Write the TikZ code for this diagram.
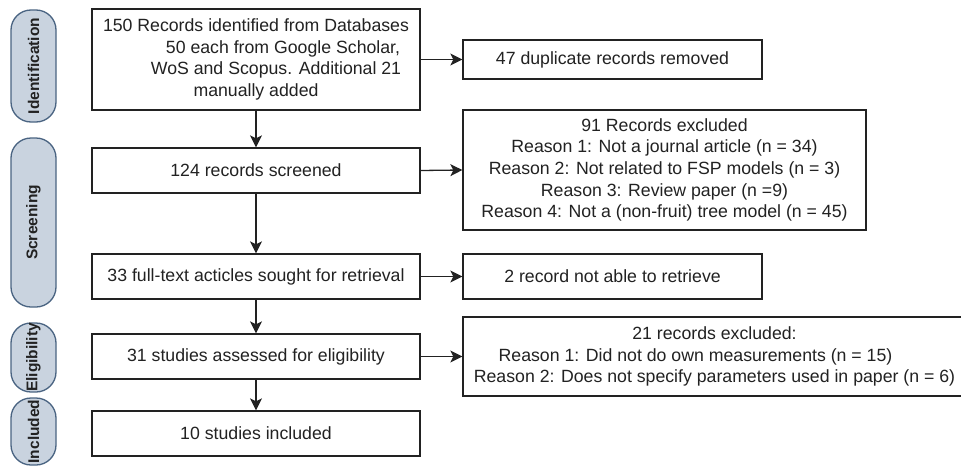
\documentclass[tikz,border=0pt]{standalone}
\usepackage{fontspec}
\setmainfont{Liberation Sans}
\usetikzlibrary{arrows.meta}
\definecolor{pillfill}{HTML}{C9D3DF}
\definecolor{pilldraw}{HTML}{4A6482}
\definecolor{ink}{HTML}{222222}
\begin{document}
\begin{tikzpicture}[x=1pt,y=-1pt,
  box/.style={draw=ink, line width=1.3pt, fill=white, align=center, inner sep=2pt,
    font=\fontsize{17.7}{21.7}\selectfont, text=ink},
  pill/.style={draw=pilldraw, line width=1.3pt, fill=pillfill, rounded corners=20pt,
    rotate=90, minimum height=45pt, inner sep=0pt, font=\fontsize{15.5}{17}\selectfont\bfseries, text=ink},
  arr/.style={draw=ink, line width=1.3pt, -{Stealth[length=12pt,width=12pt,inset=3pt]}}]
\useasboundingbox (0,0) rectangle (961,466);
\fill[white] (0,0) rectangle (961,466);
\clip (0,0) rectangle (961,466);
% phase pills
\node[pill, minimum width=112pt] (pid) at (33.5,66) {Identification};
\node[pill, minimum width=169pt] (psc) at (33.5,222.5) {Screening};
\node[pill, minimum width=69pt] (pel) at (33.5,357.5) {Eligibility};
\node[pill, minimum width=67pt] (pin) at (33.5,431.5) {Included};
% main column
\node[box, minimum width=328pt, minimum height=101pt] (b1) at (256,59.5)
  {150 Records identified from Databases\\
   \makebox[54pt]{}50 each from Google Scholar,\\
   \makebox[40pt]{}WoS and Scopus. Additional 21\\
   manually added};
\node[box, minimum width=328pt, minimum height=45pt] (b2) at (256,170.5) {124 records screened};
\node[box, minimum width=328pt, minimum height=45pt] (b3) at (256,276.5) {33 full-text acticles sought for retrieval};
\node[box, minimum width=328pt, minimum height=45pt] (b4) at (256,356.5) {31 studies assessed for eligibility};
\node[box, minimum width=328pt, minimum height=45pt] (b5) at (256,433.5) {10 studies included};
% right column
\node[box, minimum width=299pt, minimum height=39pt] (r1) at (612.5,59.5) {47 duplicate records removed};
\node[box, minimum width=403pt, minimum height=120pt] (r2) at (664.5,170)
  {91 Records excluded\\
   Reason 1: Not a journal article (n = 34)\\
   Reason 2: Not related to FSP models (n = 3)\\
   Reason 3: Review paper (n =9)\\
   Reason 4: Not a (non-fruit) tree model (n = 45)};
\node[box, minimum width=299pt, minimum height=45pt] (r3) at (612.5,276.5) {2 record not able to retrieve};
\node[box, minimum width=560pt, minimum height=79pt] (r4) at (743,356.5)
  {21 records excluded:\makebox[57pt]{}\\
   Reason 1: Did not do own measurements (n = 15)\makebox[95pt]{}\\
   Reason 2: Does not specify parameters used in paper (n = 6)\makebox[57pt]{}};
% connectors
\draw[arr] (b1) -- (b2);
\draw[arr] (b2) -- (b3);
\draw[arr] (b3) -- (b4);
\draw[arr] (b4) -- (b5);
\draw[arr] (b1.east) -- (r1.west);
\draw[arr] (b2.east) -- (r2.west);
\draw[arr] (b3.east) -- (r3.west);
\draw[arr] (b4.east) -- (r4.west);
\end{tikzpicture}
\end{document}
